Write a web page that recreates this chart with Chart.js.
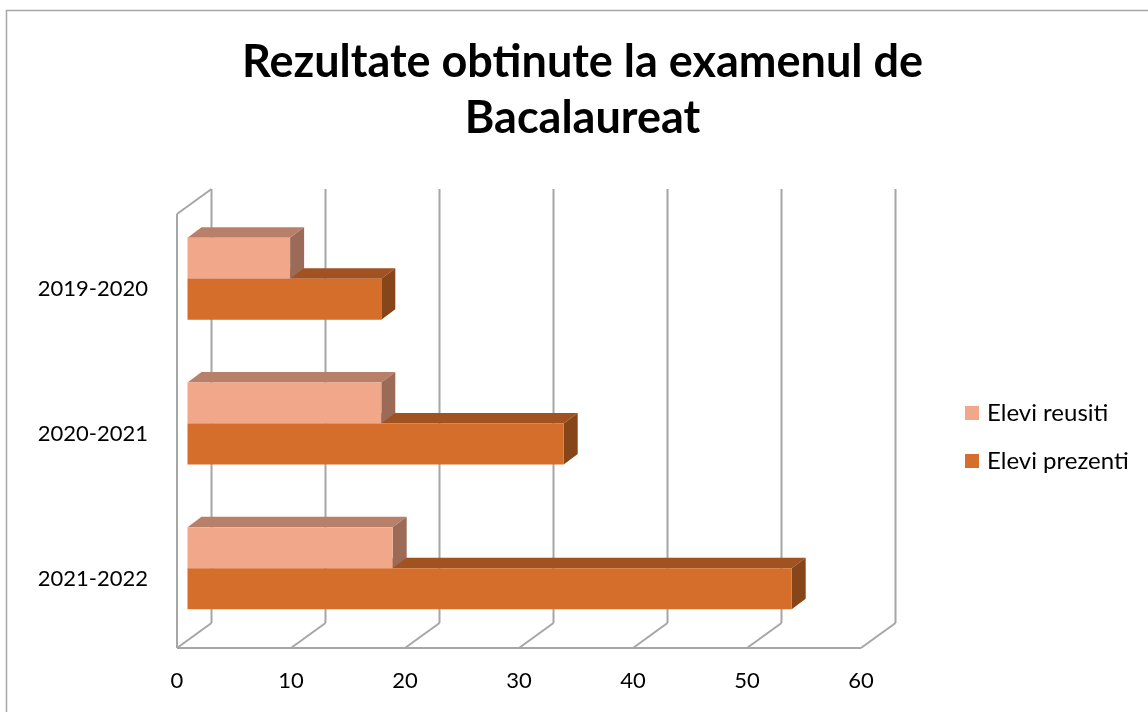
<!DOCTYPE html>
<html>
<head>
<meta charset="utf-8">
<script src="https://cdn.jsdelivr.net/npm/chart.js@4.4.1/dist/chart.umd.min.js"></script>
<style>
  html, body { margin: 0; padding: 0; background: #ffffff; }
  #wrap { width: 1148px; height: 712px; position: relative; }
  canvas { display: block; }
</style>
</head>
<body>
<div id="wrap"><canvas id="c" width="1148" height="712"></canvas></div>
<script>
// ---- data ----
const categories = ['2019-2020', '2020-2021', '2021-2022'];
const seriesNames = ['Elevi reusiti', 'Elevi prezenti'];
const elevReusiti = [9, 17, 18];
const elevPrezenti = [17, 33, 53];
const xTickValues = [0, 10, 20, 30, 40, 50, 60];
const titleLines = ['Rezultate obtinute la examenul de', 'Bacalaureat'];

// ---- styles ----
const FONT = 'Lato, "Open Sans", sans-serif';
const frontColors = ['#F1A88A', '#D56E2B'];
const topColors = ['#B98069', '#A05220'];
const sideColors = ['#9B6B58', '#87461A'];
const GRID = '#a6a6a6';
const WALL_DX = 34.5, WALL_DY = -25;   // 3D depth of walls
const BAR_SHIFT_X = 10.5, BAR_SHIFT_Y = -7.5; // bar front plane
const BAR_DX = 14, BAR_DY = -10.5;     // bar depth

const wallPlugin = {
  id: 'wall3d',
  beforeDatasetsDraw(chart) {
    const { ctx, chartArea: a, scales: { x } } = chart;
    ctx.save();
    ctx.strokeStyle = GRID;
    ctx.lineWidth = 2;
    ctx.lineCap = 'butt';
    const line = (x1, y1, x2, y2) => { ctx.beginPath(); ctx.moveTo(x1, y1); ctx.lineTo(x2, y2); ctx.stroke(); };
    xTickValues.forEach(v => {
      const px = x.getPixelForValue(v);
      line(px + WALL_DX, a.top + WALL_DY, px + WALL_DX, a.bottom + WALL_DY);
      line(px, a.bottom, px + WALL_DX, a.bottom + WALL_DY);
    });
    line(a.left, a.top, a.left, a.bottom);
    line(a.left, a.top, a.left + WALL_DX, a.top + WALL_DY);
    line(a.left, a.bottom, a.right, a.bottom);
    ctx.restore();
  }
};

const bar3dPlugin = {
  id: 'bar3d',
  beforeDatasetDraw(chart, args) {
    const { ctx } = chart;
    const i = args.index;
    ctx.save();
    ctx.translate(BAR_SHIFT_X, BAR_SHIFT_Y);
    args.meta.data.forEach(el => {
      const { x, y, base, height } = el.getProps(['x', 'y', 'base', 'height'], true);
      const t = y - height / 2, b = y + height / 2;
      ctx.fillStyle = topColors[i];
      ctx.beginPath();
      ctx.moveTo(base, t); ctx.lineTo(x, t); ctx.lineTo(x + BAR_DX, t + BAR_DY); ctx.lineTo(base + BAR_DX, t + BAR_DY);
      ctx.closePath(); ctx.fill();
      ctx.fillStyle = sideColors[i];
      ctx.beginPath();
      ctx.moveTo(x, t); ctx.lineTo(x + BAR_DX, t + BAR_DY); ctx.lineTo(x + BAR_DX, b + BAR_DY); ctx.lineTo(x, b);
      ctx.closePath(); ctx.fill();
    });
  },
  afterDatasetDraw(chart) {
    chart.ctx.restore();
  }
};

const decorPlugin = {
  id: 'decor',
  afterDraw(chart) {
    const { ctx } = chart;
    ctx.save();
    // outer frame
    ctx.strokeStyle = '#a6a6a6';
    ctx.lineWidth = 1.5;
    ctx.strokeRect(6.5, 10.5, 1200, 800);
    // title
    ctx.fillStyle = '#000000';
    ctx.font = 'bold 45px ' + FONT;
    ctx.textAlign = 'center';
    ctx.textBaseline = 'alphabetic';
    ctx.fillText(titleLines[0], 582.5, 77);
    ctx.fillText(titleLines[1], 582.5, 133);
    // legend
    ctx.font = '24px ' + FONT;
    ctx.textAlign = 'left';
    ctx.textBaseline = 'middle';
    chart.data.datasets.forEach((ds, k) => {
      const cy = 413 + k * 48;
      ctx.fillStyle = ds.backgroundColor;
      ctx.fillRect(965, cy - 7, 14, 14);
      ctx.fillStyle = '#000000';
      ctx.fillText(ds.label, 987, cy);
    });
    ctx.restore();
  }
};

new Chart(document.getElementById('c'), {
  type: 'bar',
  data: {
    labels: categories,
    datasets: [
      { label: seriesNames[0], data: elevReusiti, backgroundColor: frontColors[0] },
      { label: seriesNames[1], data: elevPrezenti, backgroundColor: frontColors[1] }
    ]
  },
  options: {
    indexAxis: 'y',
    responsive: false,
    animation: false,
    layout: { padding: { left: 0, right: 1148 - 861, top: 214, bottom: 14 } },
    datasets: { bar: { categoryPercentage: 0.567, barPercentage: 1, borderWidth: 0, clip: false } },
    scales: {
      x: {
        min: 0, max: 60,
        afterBuildTicks(s) { s.ticks = xTickValues.map(v => ({ value: v })); },
        ticks: { font: { family: FONT, size: 22 }, color: '#000000', padding: 20, maxRotation: 0 },
        grid: { display: false, drawTicks: false },
        border: { display: false },
        afterFit(s) { s.height = 50; }
      },
      y: {
        ticks: { font: { family: FONT, size: 22 }, color: '#000000', padding: 29, labelOffset: 3 },
        grid: { display: false, drawTicks: false },
        border: { display: false },
        afterFit(s) { s.width = 177; }
      }
    },
    plugins: {
      legend: { display: false },
      title: { display: false },
      tooltip: { enabled: false }
    }
  },
  plugins: [wallPlugin, bar3dPlugin, decorPlugin]
});
</script>
</body>
</html>
